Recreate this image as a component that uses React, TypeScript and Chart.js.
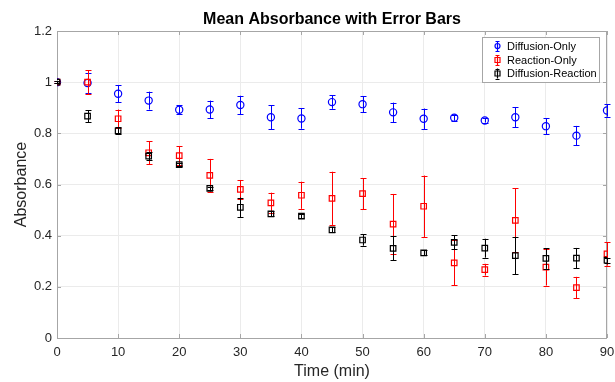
import React, { useEffect, useRef } from "react";
import { Chart, registerables } from "chart.js";

Chart.register(...registerables);

const times = [0, 5, 10, 15, 20, 25, 30, 35, 40, 45, 50, 55, 60, 65, 70, 75, 80, 85, 90];

const diffusionOnly = [1.0, 0.997, 0.955, 0.928, 0.892, 0.893, 0.911, 0.863, 0.858, 0.922, 0.914, 0.882, 0.857, 0.861, 0.85, 0.863, 0.828, 0.791, 0.889];
const diffusionOnlyErr = [0.004, 0.04, 0.034, 0.035, 0.018, 0.035, 0.036, 0.046, 0.04, 0.026, 0.032, 0.038, 0.04, 0.012, 0.008, 0.04, 0.032, 0.038, 0.024];

const reactionOnly = [1.0, 1.0, 0.857, 0.724, 0.713, 0.636, 0.581, 0.528, 0.558, 0.546, 0.564, 0.445, 0.515, 0.294, 0.267, 0.46, 0.277, 0.197, 0.329];
const reactionOnlyErr = [0.004, 0.047, 0.036, 0.045, 0.037, 0.064, 0.036, 0.04, 0.053, 0.104, 0.06, 0.118, 0.12, 0.088, 0.023, 0.125, 0.072, 0.042, 0.046];

const diffusionReaction = [1.0, 0.867, 0.81, 0.711, 0.678, 0.585, 0.511, 0.485, 0.476, 0.423, 0.383, 0.35, 0.333, 0.374, 0.351, 0.322, 0.311, 0.312, 0.304];
const diffusionReactionErr = [0.004, 0.023, 0.013, 0.015, 0.006, 0.007, 0.038, 0.01, 0.008, 0.01, 0.022, 0.047, 0.01, 0.028, 0.037, 0.073, 0.04, 0.04, 0.01];

const xTicks = [0, 10, 20, 30, 40, 50, 60, 70, 80, 90];
const yTicks = [0, 0.2, 0.4, 0.6, 0.8, 1, 1.2];

const titleText = "Mean Absorbance with Error Bars";
const xLabel = "Time (min)";
const yLabel = "Absorbance";
const seriesNames = ["Diffusion-Only", "Reaction-Only", "Diffusion-Reaction"];
const seriesColors = ["#0000ff", "#ff0000", "#000000"];

const FONT = "'Liberation Sans', Arial, Helvetica, sans-serif";
const TEXT = "#262626";
const AXIS = "#a6a6a6";

const extrasPlugin = {
  id: "extras",
  beforeDatasetsDraw(chart: any) {
    const { ctx, chartArea: a, scales } = chart;
    ctx.save();
    ctx.strokeStyle = AXIS;
    ctx.lineWidth = 1;
    ctx.strokeRect(Math.round(a.left) + 0.5, Math.round(a.top) + 0.5, Math.round(a.right - a.left) - 1, Math.round(a.bottom - a.top));
    const tl = 4;
    ctx.beginPath();
    xTicks.forEach((t) => {
      const x = Math.round(scales.x.getPixelForValue(t)) + 0.5;
      ctx.moveTo(x, a.bottom);
      ctx.lineTo(x, a.bottom - tl);
      ctx.moveTo(x, a.top);
      ctx.lineTo(x, a.top + tl);
    });
    yTicks.forEach((t) => {
      const y = Math.round(scales.y.getPixelForValue(t)) + 0.5;
      ctx.moveTo(a.left, y);
      ctx.lineTo(a.left + tl, y);
      ctx.moveTo(a.right, y);
      ctx.lineTo(a.right - tl, y);
    });
    ctx.stroke();
    ctx.restore();
  },
  beforeDatasetDraw(chart: any, args: any) {
    const ds = chart.data.datasets[args.index];
    const errs: number[] = ds.errors;
    if (!errs) return;
    const { ctx, scales } = chart;
    ctx.save();
    ctx.strokeStyle = ds.borderColor;
    ctx.lineWidth = 1;
    ctx.beginPath();
    ds.data.forEach((p: any, i: number) => {
      const x = Math.round(scales.x.getPixelForValue(p.x)) + 0.5;
      const y1 = scales.y.getPixelForValue(p.y + errs[i]);
      const y2 = scales.y.getPixelForValue(p.y - errs[i]);
      ctx.moveTo(x, y1);
      ctx.lineTo(x, y2);
      ctx.moveTo(x - 3, Math.round(y1) + 0.5);
      ctx.lineTo(x + 3, Math.round(y1) + 0.5);
      ctx.moveTo(x - 3, Math.round(y2) + 0.5);
      ctx.lineTo(x + 3, Math.round(y2) + 0.5);
    });
    ctx.stroke();
    ctx.restore();
  },
  afterDraw(chart: any) {
    const { ctx, chartArea: a } = chart;
    ctx.save();
    const cx = (a.left + a.right) / 2;
    ctx.fillStyle = "#000";
    ctx.textAlign = "center";
    ctx.textBaseline = "middle";
    ctx.font = `bold 16px ${FONT}`;
    ctx.fillText(titleText, cx, 20);
    ctx.fillStyle = TEXT;
    ctx.font = `16px ${FONT}`;
    ctx.fillText(xLabel, cx, 372);
    ctx.save();
    ctx.translate(22, (a.top + a.bottom) / 2);
    ctx.rotate(-Math.PI / 2);
    ctx.fillText(yLabel, 0, 0);
    ctx.restore();

    // legend
    const lx = 482.5, ly = 37.5, lw = 117, lh = 45;
    ctx.fillStyle = "#fff";
    ctx.fillRect(lx, ly, lw, lh);
    ctx.strokeStyle = AXIS;
    ctx.lineWidth = 1;
    ctx.strokeRect(lx, ly, lw, lh);
    ctx.font = `11px ${FONT}`;
    ctx.textAlign = "left";
    ctx.textBaseline = "middle";
    const rows = [46, 60, 73.5];
    seriesNames.forEach((name, i) => {
      const y = rows[i];
      const ix = 497.5;
      const c = seriesColors[i];
      ctx.strokeStyle = c;
      ctx.lineWidth = 1.2;
      ctx.beginPath();
      ctx.moveTo(ix, y - 5);
      ctx.lineTo(ix, y + 5);
      ctx.moveTo(ix - 2, Math.round(y - 5) + 0.5);
      ctx.lineTo(ix + 2, Math.round(y - 5) + 0.5);
      ctx.moveTo(ix - 2, Math.round(y + 5) + 0.5);
      ctx.lineTo(ix + 2, Math.round(y + 5) + 0.5);
      ctx.stroke();
      ctx.beginPath();
      if (i === 0) {
        ctx.arc(ix, y, 2.5, 0, Math.PI * 2);
      } else {
        ctx.rect(ix - 2.5, y - 2.5, 5, 5);
      }
      ctx.stroke();
      ctx.fillStyle = "#000";
      ctx.fillText(name, 507, y + 0.5);
    });
    ctx.restore();
  },
};

const toPoints = (vals: number[]) => vals.map((v, i) => ({ x: times[i], y: v }));

export default function App() {
  const ref = useRef<HTMLCanvasElement>(null);
  useEffect(() => {
    if (!ref.current) return;
    const chart = new Chart(ref.current, {
      type: "scatter",
      data: {
        datasets: [
          {
            label: seriesNames[0],
            data: toPoints(diffusionOnly),
            errors: diffusionOnlyErr,
            borderColor: seriesColors[0],
            backgroundColor: "rgba(0,0,0,0)",
            pointStyle: "circle",
            pointRadius: 3.6,
            pointBorderWidth: 1.2,
            order: 3,
          } as any,
          {
            label: seriesNames[1],
            data: toPoints(reactionOnly),
            errors: reactionOnlyErr,
            borderColor: seriesColors[1],
            backgroundColor: "rgba(0,0,0,0)",
            pointStyle: "rect",
            pointRadius: 3.9,
            pointBorderWidth: 1.2,
            order: 2,
          } as any,
          {
            label: seriesNames[2],
            data: toPoints(diffusionReaction),
            errors: diffusionReactionErr,
            borderColor: seriesColors[2],
            backgroundColor: "rgba(0,0,0,0)",
            pointStyle: "rect",
            pointRadius: 3.9,
            pointBorderWidth: 1.2,
            order: 1,
          } as any,
        ],
      },
      options: {
        animation: false,
        responsive: true,
        maintainAspectRatio: false,
        layout: { padding: { top: 31, right: 8, left: 0, bottom: 0 } },
        plugins: {
          legend: { display: false },
          title: { display: false },
          tooltip: { enabled: false },
        },
        scales: {
          x: {
            type: "linear",
            min: 0,
            max: 90,
            afterFit: (s: any) => {
              s.height = 44;
              s.paddingLeft = 0;
              s.paddingRight = 0;
            },
            afterBuildTicks: (s: any) => {
              s.ticks = xTicks.map((v) => ({ value: v }));
            },
            ticks: {
              color: TEXT,
              font: { family: FONT, size: 13 },
              padding: 7,
              maxRotation: 0,
              autoSkip: false,
            },
            grid: { color: "#ebebeb", drawTicks: false },
            border: { display: false },
          },
          y: {
            type: "linear",
            min: 0,
            max: 1.2,
            afterFit: (s: any) => {
              s.width = 57;
              s.paddingTop = 0;
              s.paddingBottom = 0;
            },
            afterBuildTicks: (s: any) => {
              s.ticks = yTicks.map((v) => ({ value: v }));
            },
            ticks: {
              color: TEXT,
              font: { family: FONT, size: 13 },
              padding: 5,
              callback: (v: any) => String(Math.round(Number(v) * 10) / 10),
            },
            grid: { color: "#ebebeb", drawTicks: false },
            border: { display: false },
          },
        },
      },
      plugins: [extrasPlugin],
    } as any);
    return () => chart.destroy();
  }, []);
  return (
    <div style={{ position: "fixed", left: 0, top: 0, width: 615, height: 382, background: "#fff" }}>
      <canvas ref={ref} />
    </div>
  );
}
